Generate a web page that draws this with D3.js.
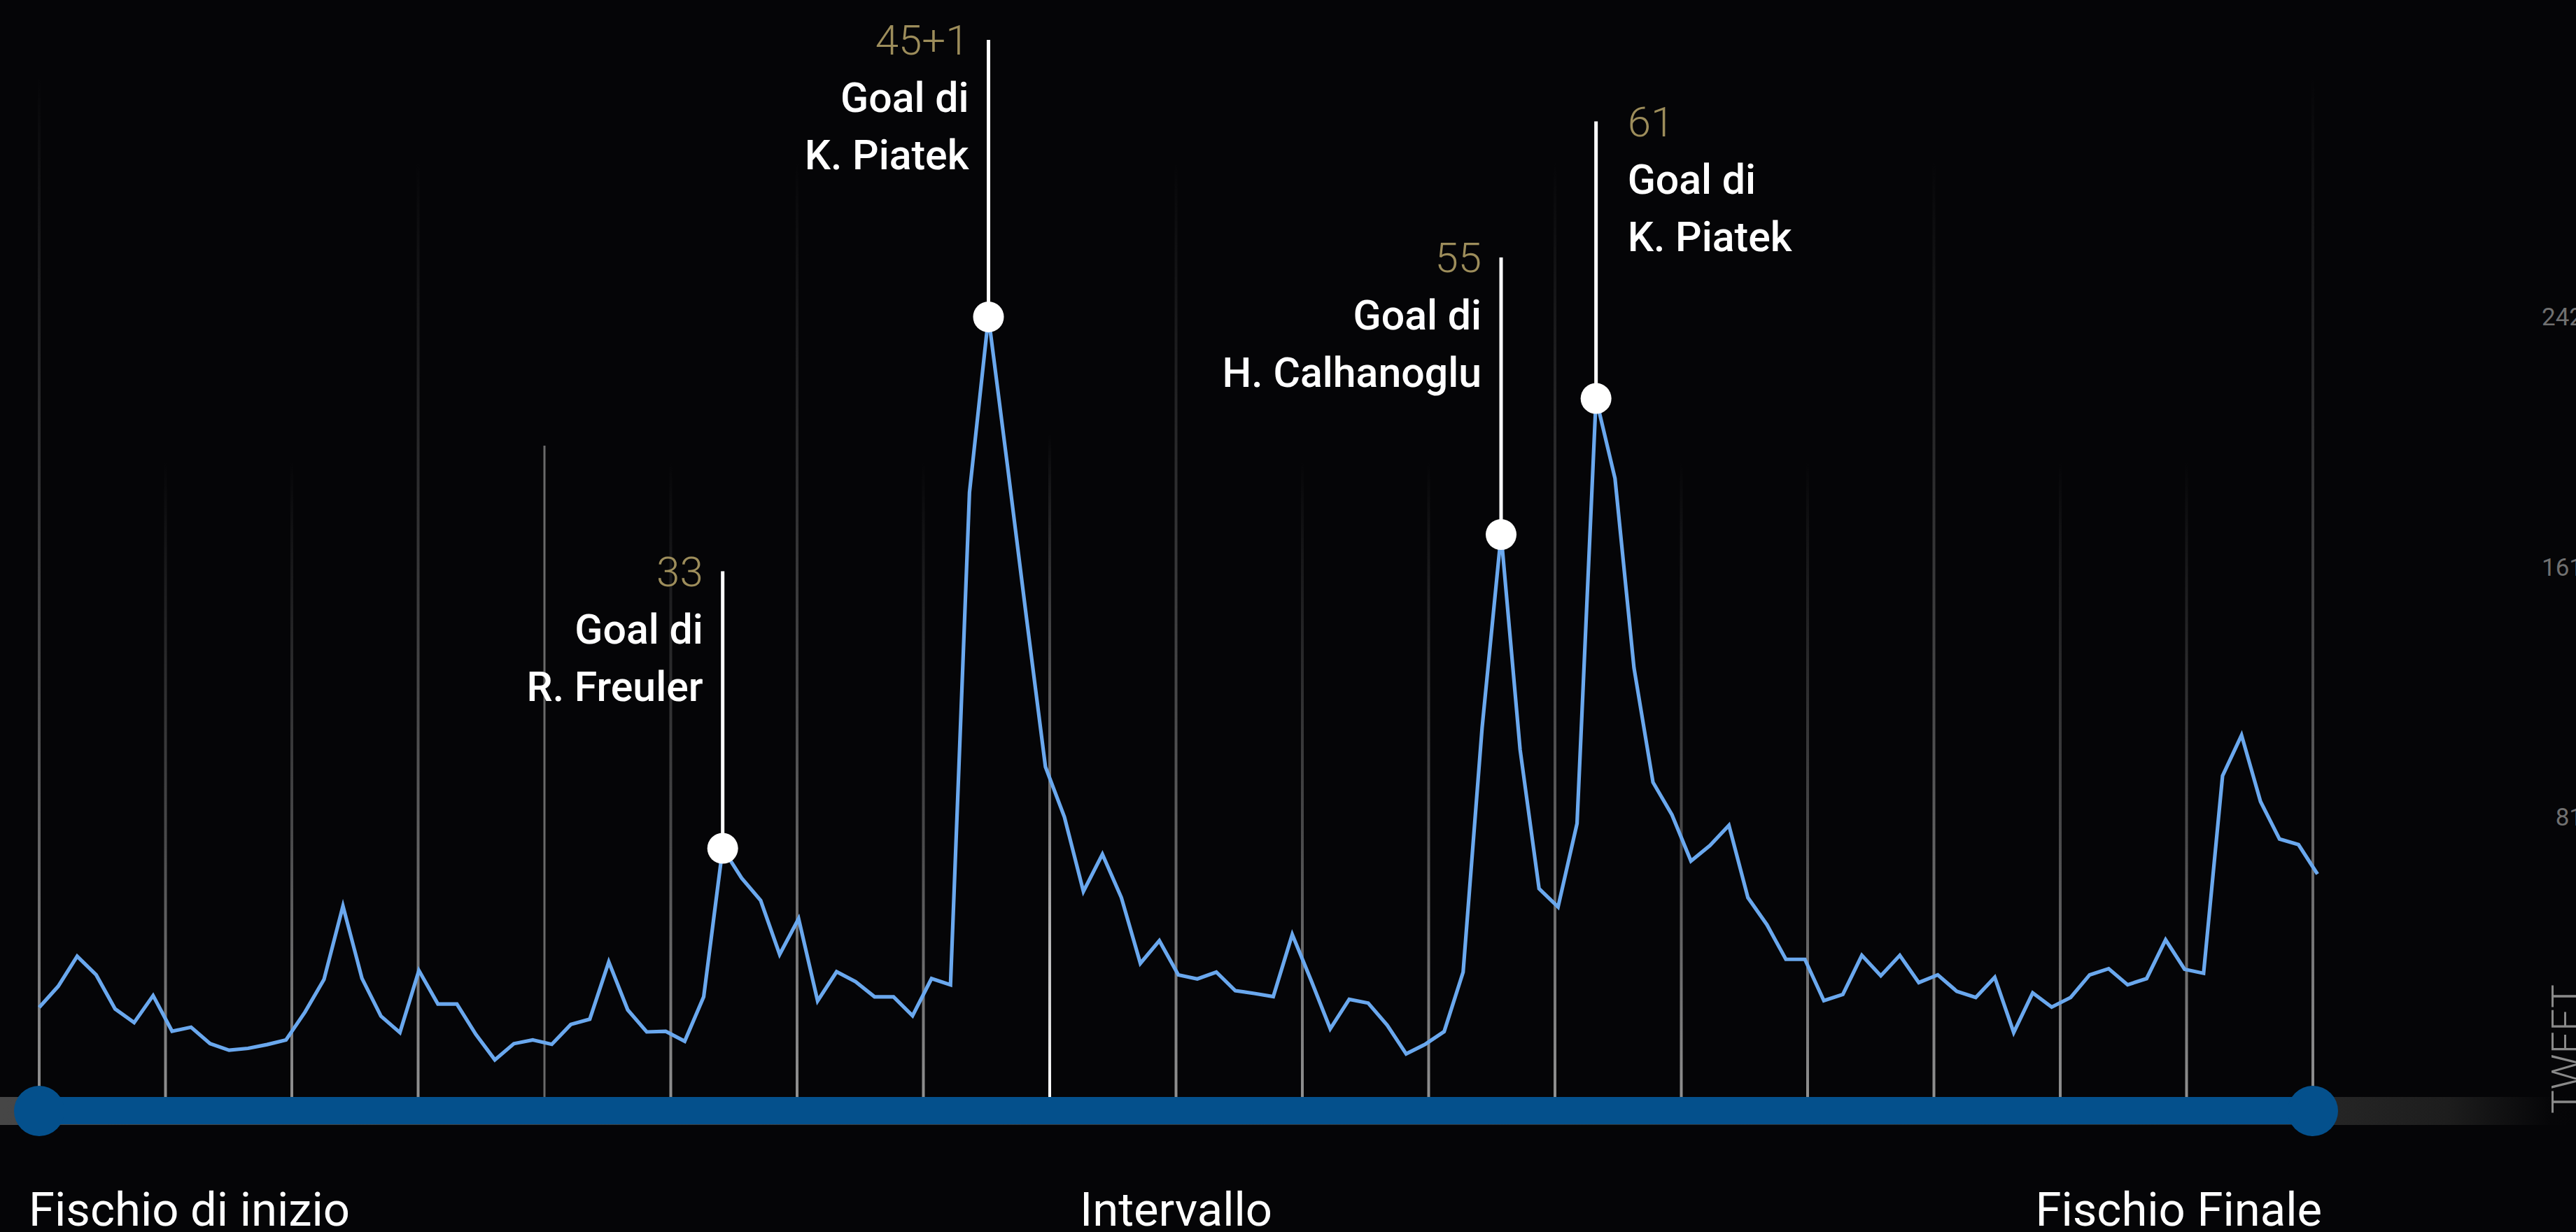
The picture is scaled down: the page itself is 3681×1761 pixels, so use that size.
<!DOCTYPE html>
<html><head><meta charset="utf-8">
<script src="https://cdn.jsdelivr.net/npm/d3@7"></script>
<style>
html,body{margin:0;padding:0;background:#050507;overflow:hidden;}
svg{display:block;}
text{font-family:Roboto, "Noto Sans", sans-serif;}
</style></head><body>
<svg id="chart" width="3681" height="1761"></svg>
<script>
// ---- DATA ----
const tweets = [
  19.3, 26.1, 35.8, 29.8, 18.8, 14.4, 23.1, 11.6, 12.9, 7.6,
  5.5, 6.1, 7.3, 8.8, 17.8, 28.3, 52, 28.7, 16.5, 11.2,
  31.2, 20.4, 20.4, 10.6, 2.4, 7.6, 8.8, 7.4, 13.8, 15.5,
  34, 18.5, 11.4, 11.6, 8.4, 22.7, 70.6, 61, 53.8, 36.4,
  47.9, 21.4, 30.8, 27.6, 22.7, 22.7, 16.6, 28.6, 26.6, 185.4,
  242, 194, 145, 96.9, 80.7, 56.7, 68.7, 54.7, 33.5, 40.8,
  29.8, 28.5, 30.7, 24.7, 23.8, 22.8, 42.8, 27.9, 12.4, 21.9,
  20.7, 13.6, 4.3, 7.4, 11.5, 30.7, 109.5, 171.8, 102.5, 57.6,
  51.7, 78.6, 215.7, 189.9, 128.8, 91.9, 81.4, 66.5, 71.5, 78,
  54.7, 46, 34.8, 34.8, 21.5, 23.5, 36.1, 29.5, 36.1, 27.3,
  29.8, 24.5, 22.5, 29, 11.2, 24, 19.4, 22.5, 29.8, 31.8,
  26.6, 28.6, 41.1, 31.6, 30.3, 94, 107.1, 85.7, 73.6, 71.8,
  62.3
];
const goalIndex  = [36, 50, 77, 82];
const goalMinute = ["33", "45+1", "55", "61"];
const goalTitle  = ["Goal di", "Goal di", "Goal di", "Goal di"];
const goalScorer = ["R. Freuler", "K. Piatek", "H. Calhanoglu", "K. Piatek"];
const goalSide   = ["end", "end", "end", "start"];
const yMax = 242;
const yTickValues = [yMax / 3, yMax * 2 / 3, yMax];
const yTickLabels = ["81", "161", "242"];
const yAxisTitle = "TWEET";
const timelineLabels = ["Fischio di inizio", "Intervallo", "Fischio Finale"];
const gridKinds = ["end","minor","minor","major","solid","minor","major","minor","half","major",
                   "minor","minor","major","minor","minor","major","minor","minor","end"];

// ---- LAYOUT ----
const W = 3681, H = 1761;
const svg = d3.select("#chart");
svg.append("rect").attr("width", W).attr("height", H).attr("fill", "#050507");

const x = d3.scaleLinear().domain([0, tweets.length - 1]).range([56, 3311.6]);
const tl = d3.scaleLinear().domain([0, gridKinds.length - 1]).range([56, 3305]);
const y = d3.scaleLinear().domain([0, yMax]).range([1525.5, 453]);

const barTop = 1568, barH = 39, barCY = 1588;

const defs = svg.append("defs");
function vgrad(id, color) {
  const g = defs.append("linearGradient").attr("id", id)
    .attr("x1", 0).attr("y1", 0).attr("x2", 0).attr("y2", 1);
  g.append("stop").attr("offset", 0).attr("stop-color", color).attr("stop-opacity", 0);
  g.append("stop").attr("offset", 0.6).attr("stop-color", color).attr("stop-opacity", 0.5);
  g.append("stop").attr("offset", 1).attr("stop-color", color).attr("stop-opacity", 1);
}
vgrad("gGray", "#909090");
vgrad("gWhite", "#ffffff");
const hg = defs.append("linearGradient").attr("id", "gBar")
  .attr("x1", 0).attr("y1", 0).attr("x2", 1).attr("y2", 0);
[[0, "#464646"], [0.88, "#2a2a2a"], [0.95, "#1d1d1d"], [0.99, "#060608"], [1, "#050507"]]
  .forEach(([o, c]) => hg.append("stop").attr("offset", o).attr("stop-color", c));

const gridTop = {end: 110, major: 230, minor: 660, solid: 637, half: 620};
const gridFill = {end: "url(#gGray)", major: "url(#gGray)", minor: "url(#gGray)", solid: "#6a6a6a", half: "url(#gWhite)"};
const gridW = {end: 4, major: 4, minor: 4, solid: 3, half: 4};

svg.append("g").selectAll("rect").data(gridKinds).join("rect")
  .attr("x", (d, i) => tl(i) - gridW[d] / 2)
  .attr("y", d => gridTop[d])
  .attr("width", d => gridW[d])
  .attr("height", d => barTop - gridTop[d])
  .attr("fill", d => gridFill[d]);

// timeline bar
svg.append("rect").attr("x", 0).attr("y", barTop).attr("width", W).attr("height", barH + 1)
  .attr("fill", "url(#gBar)");
svg.append("rect").attr("x", tl(0)).attr("y", barTop).attr("width", tl(gridKinds.length - 1) - tl(0))
  .attr("height", barH).attr("fill", "#04508c");
svg.append("g").selectAll("circle").data([0, gridKinds.length - 1]).join("circle")
  .attr("cx", d => tl(d)).attr("cy", barCY).attr("r", 36).attr("fill", "#04508c");

// data line
svg.append("path").datum(tweets)
  .attr("d", d3.line().x((d, i) => x(i)).y(d => y(d)))
  .attr("fill", "none").attr("stroke", "#6aa8ee").attr("stroke-width", 5.2)
  .attr("stroke-linejoin", "miter").attr("stroke-miterlimit", 4);

// y axis labels
svg.append("g").selectAll("text").data(yTickValues).join("text")
  .attr("x", 3691).attr("y", d => y(d)).attr("dy", "0.35em")
  .attr("text-anchor", "end").attr("fill", "#707070")
  .attr("font-size", 35).text((d, i) => yTickLabels[i]);
svg.append("text").attr("transform", "translate(3687,1592) rotate(-90)")
  .attr("text-anchor", "start").attr("fill", "#8a8a8a")
  .attr("font-size", 57).attr("font-weight", 300).text(yAxisTitle);

// annotations
const ann = svg.append("g").selectAll("g").data(goalIndex).join("g");
ann.append("line")
  .attr("x1", d => x(d)).attr("x2", d => x(d))
  .attr("y1", d => y(tweets[d])).attr("y2", d => y(tweets[d]) - 396)
  .attr("stroke", "#ffffff").attr("stroke-width", 5);
ann.append("circle")
  .attr("cx", d => x(d)).attr("cy", d => y(tweets[d])).attr("r", 22).attr("fill", "#ffffff");
const tx = (d, i) => goalSide[i] === "end" ? x(d) - 28 : x(d) + 45;
ann.append("text").attr("x", tx).attr("y", d => y(tweets[d]) - 375)
  .attr("text-anchor", (d, i) => goalSide[i]).attr("fill", "#9d8d5b")
  .attr("font-size", 60).attr("font-weight", 300).text((d, i) => goalMinute[i]);
ann.append("text").attr("x", tx).attr("y", d => y(tweets[d]) - 293)
  .attr("text-anchor", (d, i) => goalSide[i]).attr("fill", "#ffffff")
  .attr("font-size", 59).attr("font-weight", 500).text((d, i) => goalTitle[i]);
ann.append("text").attr("x", tx).attr("y", d => y(tweets[d]) - 211)
  .attr("text-anchor", (d, i) => goalSide[i]).attr("fill", "#ffffff")
  .attr("font-size", 59).attr("font-weight", 500).text((d, i) => goalScorer[i]);

// timeline labels
const labX = [tl(0) - 15, (tl(0) + tl(gridKinds.length - 1)) / 2, tl(gridKinds.length - 1) + 13];
const labAnchor = ["start", "middle", "end"];
svg.append("g").selectAll("text").data(timelineLabels).join("text")
  .attr("x", (d, i) => labX[i]).attr("y", 1752)
  .attr("text-anchor", (d, i) => labAnchor[i]).attr("fill", "#ffffff")
  .attr("font-size", 67).attr("font-weight", 400).text(d => d);
</script>
</body></html>
